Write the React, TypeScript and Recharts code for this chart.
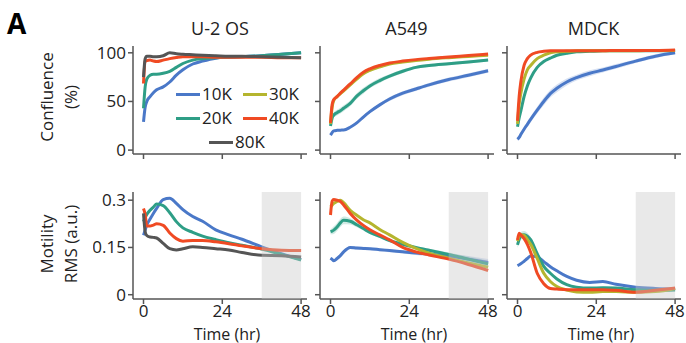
import React from 'react';
import { ComposedChart, Line, Area, XAxis, YAxis, ReferenceArea, Legend } from 'recharts';

// sampling times (hr), shared by every panel
const hours = [0, 0.5, 1, 2, 3, 4, 6, 8, 10, 12, 15, 18, 22, 26, 30, 36, 42, 48];
const timeTicks = [0, 24, 48];
const confTicks = [0, 50, 100];
const motTicks = [0, 0.15, 0.3];
const densities = ['10K', '20K', '30K', '40K', '80K'];
const cellLines = ['U-2 OS', 'A549', 'MDCK'];

// confluence (%)
const u2osConf10K = [29, 44, 50, 55, 59, 62, 65, 70, 77, 82.5, 88.5, 91.5, 94.5, 95.5, 96, 97, 98.5, 100];
const u2osConf20K = [43, 65, 73, 77, 78, 78, 79, 81, 85, 89, 92.5, 94, 95, 95.5, 96, 97, 98.5, 100];
const u2osConf40K = [68.5, 91, 92, 92.5, 91.5, 91, 92.5, 94, 95.2, 96, 96, 96, 95.5, 95.5, 95.5, 95.5, 95, 95];
const u2osConf80K = [75, 94, 96.5, 96.5, 96, 96, 97, 100, 99, 98.5, 98, 97.5, 97, 96.5, 96.5, 96, 95.5, 95];

const a549Conf10K = [15.4, 18, 19.8, 20.3, 20.5, 20.6, 23.5, 28, 34, 39.5, 46.5, 52.5, 58.5, 62.8, 67, 72.5, 77, 81.5];
const a549Conf20K = [24.7, 33, 36, 38.5, 40.5, 43, 48, 55.5, 61, 66, 71.5, 76, 81, 85, 87, 88.8, 90.5, 92.5];
const a549Conf30K = [27, 44, 51, 55, 58, 61, 67, 73, 78.5, 82, 85.5, 88.5, 90.5, 92.2, 93.5, 95, 96.3, 97.6];
const a549Conf40K = [28, 47, 52, 55, 58.5, 61.7, 68, 74.5, 80, 83.5, 87, 89.5, 91.5, 93, 94.2, 95.8, 97.2, 98.7];

const mdckConf10K = [11, 13, 16, 21.5, 26.5, 31.5, 41, 50, 58, 63.5, 70, 74.5, 79, 82.3, 86, 91.5, 96.5, 100];
const mdckConf20K = [24, 33, 40, 55, 66, 74, 85, 91, 94.5, 97.5, 99.5, 101, 101.5, 102, 102, 102, 102, 102.5];
const mdckConf30K = [27, 47, 58, 73, 82.5, 87, 94, 97.5, 100, 101, 101.5, 102, 102, 102, 102, 102, 102.5, 102.5];
const mdckConf40K = [30, 55, 70, 87, 94, 97.7, 100.5, 101.5, 102, 102, 102, 102, 102, 102, 102.5, 102.5, 102.5, 103];

// motility RMS (a.u.)
const u2osMot10K = [0.189, 0.205, 0.221, 0.24, 0.258, 0.274, 0.302, 0.306, 0.29, 0.27, 0.248, 0.233, 0.206, 0.19, 0.176, 0.152, 0.13, 0.112];
const u2osMot20K = [0.232, 0.245, 0.255, 0.268, 0.278, 0.288, 0.283, 0.26, 0.232, 0.212, 0.198, 0.186, 0.175, 0.165, 0.157, 0.145, 0.128, 0.11];
const u2osMot40K = [0.274, 0.255, 0.218, 0.218, 0.221, 0.225, 0.22, 0.196, 0.178, 0.17, 0.172, 0.172, 0.168, 0.162, 0.155, 0.146, 0.141, 0.14];
const u2osMot80K = [0.258, 0.2, 0.188, 0.183, 0.182, 0.18, 0.163, 0.146, 0.142, 0.146, 0.152, 0.15, 0.146, 0.142, 0.134, 0.125, 0.124, 0.12];

const a549Mot10K = [0.116, 0.112, 0.108, 0.115, 0.124, 0.136, 0.15, 0.148, 0.147, 0.146, 0.143, 0.14, 0.136, 0.132, 0.129, 0.123, 0.113, 0.102];
const a549Mot20K = [0.2, 0.202, 0.205, 0.215, 0.228, 0.236, 0.233, 0.222, 0.21, 0.198, 0.185, 0.172, 0.16, 0.15, 0.141, 0.128, 0.113, 0.098];
const a549Mot30K = [0.279, 0.284, 0.29, 0.296, 0.3, 0.292, 0.268, 0.252, 0.238, 0.228, 0.207, 0.19, 0.166, 0.147, 0.132, 0.116, 0.101, 0.087];
const a549Mot40K = [0.253, 0.297, 0.302, 0.3, 0.296, 0.285, 0.258, 0.237, 0.22, 0.206, 0.19, 0.174, 0.15, 0.136, 0.126, 0.113, 0.096, 0.077];

const mdckMot10K = [0.092, 0.095, 0.098, 0.106, 0.115, 0.123, 0.12, 0.105, 0.089, 0.076, 0.058, 0.046, 0.039, 0.042, 0.033, 0.024, 0.02, 0.018];
const mdckMot20K = [0.158, 0.175, 0.187, 0.19, 0.186, 0.175, 0.13, 0.09, 0.068, 0.05, 0.032, 0.024, 0.021, 0.022, 0.021, 0.016, 0.014, 0.015];
const mdckMot30K = [0.17, 0.185, 0.19, 0.188, 0.175, 0.16, 0.115, 0.068, 0.042, 0.026, 0.015, 0.009, 0.008, 0.01, 0.01, 0.008, 0.01, 0.02];
const mdckMot40K = [0.174, 0.195, 0.19, 0.178, 0.16, 0.135, 0.068, 0.035, 0.02, 0.018, 0.016, 0.016, 0.016, 0.016, 0.014, 0.008, 0.014, 0.021];

// half-widths of the shaded error bands that are visible in the figure
const a549Conf10KSd = [1, 1, 1, 1, 1, 1, 1, 1.5, 1.5, 1.5, 1.5, 2, 2, 2, 2, 2, 2, 2];
const a549Conf20KSd = [1.5, 2, 2.5, 3, 3, 3, 3, 3, 3, 2.5, 2.5, 2, 2, 1.5, 1.5, 1.5, 1.5, 1.5];
const a549Conf30KSd = [1, 1.5, 2, 2, 2, 2, 2, 2, 1.5, 1.5, 1.5, 1, 1, 1, 1, 1, 1, 1];
const mdckConf10KSd = [1, 1.5, 1.5, 2, 2.5, 3, 3.5, 4, 4, 4, 3.5, 3, 3, 2.5, 2.5, 2, 2, 1.5];
const a549Mot10KSd = [0.004, 0.004, 0.004, 0.005, 0.005, 0.005, 0.005, 0.005, 0.005, 0.005, 0.005, 0.005, 0.005, 0.006, 0.007, 0.008, 0.01, 0.011];
const a549Mot20KSd = [0.008, 0.01, 0.012, 0.013, 0.013, 0.012, 0.01, 0.008, 0.006, 0.005, 0.005, 0.004, 0.004, 0.004, 0.005, 0.006, 0.008, 0.01];
const mdckMot20KSd = [0.01, 0.012, 0.012, 0.012, 0.01, 0.008, 0.006, 0.004, 0.003, 0.003, 0.003, 0.003, 0.003, 0.003, 0.003, 0.003, 0.003, 0.003];

const colors: Record<string, string> = {
  '10K': '#4a78c8',
  '20K': '#2e9e86',
  '30K': '#b5b52e',
  '40K': '#f04a23',
  '80K': '#555555',
};

const FONT = '"Open Sans", Lato, sans-serif';
const FS = 17;
const INK = '#222';
const AXIS = '#555';

type Series = Record<string, number[]>;

function rows(series: Series, bands: Series = {}) {
  return hours.map((t, i) => {
    const r: Record<string, any> = { t };
    Object.keys(series).forEach((k) => (r[k] = series[k][i]));
    Object.keys(bands).forEach((k) => (r[k + 'band'] = [series[k][i] - bands[k][i], series[k][i] + bands[k][i]]));
    return r;
  });
}

const confData = [
  rows({ '10K': u2osConf10K, '20K': u2osConf20K, '40K': u2osConf40K, '80K': u2osConf80K }),
  rows(
    { '10K': a549Conf10K, '20K': a549Conf20K, '30K': a549Conf30K, '40K': a549Conf40K },
    { '10K': a549Conf10KSd, '20K': a549Conf20KSd, '30K': a549Conf30KSd },
  ),
  rows({ '10K': mdckConf10K, '20K': mdckConf20K, '30K': mdckConf30K, '40K': mdckConf40K }, { '10K': mdckConf10KSd }),
];
const motData = [
  rows({ '10K': u2osMot10K, '20K': u2osMot20K, '40K': u2osMot40K, '80K': u2osMot80K }),
  rows(
    { '10K': a549Mot10K, '20K': a549Mot20K, '30K': a549Mot30K, '40K': a549Mot40K },
    { '10K': a549Mot10KSd, '20K': a549Mot20KSd },
  ),
  rows({ '10K': mdckMot10K, '20K': mdckMot20K, '30K': mdckMot30K, '40K': mdckMot40K }, { '20K': mdckMot20KSd }),
];

const spineX = [133, 319.5, 506.5];
const PLOT_W = 174;
const Y_W = 40;

function LegendBox() {
  const item = (k: string) => (
    <div key={k} style={{ display: 'flex', alignItems: 'center', width: 67 }}>
      <div style={{ width: 24, height: 3, background: colors[k], marginRight: 2 }} />
      <div>{k}</div>
    </div>
  );
  const row: React.CSSProperties = { display: 'flex', height: 24, alignItems: 'center' };
  return (
    <div style={{ fontFamily: FONT, fontSize: FS, color: INK, lineHeight: '20px' }}>
      <div style={row}>{item('10K')}{item('30K')}</div>
      <div style={row}>{item('20K')}{item('40K')}</div>
      <div style={{ ...row, paddingLeft: 33 }}>{item('80K')}</div>
    </div>
  );
}

function Panel({ col, kind }: { col: number; kind: 'conf' | 'mot' }) {
  const top = kind === 'conf';
  const data = top ? confData[col] : motData[col];
  const keys = densities.filter((k) => k in data[0]);
  const bandKeys = keys.filter((k) => k + 'band' in data[0]);
  const plotH = top ? 108 : 107;
  const xh = top ? 12 : 50;
  const tick = { fontSize: FS, fill: INK, fontFamily: FONT };
  return (
    <div style={{ position: 'absolute', left: spineX[col] - Y_W, top: top ? 42 : 188 }}>
      <ComposedChart
        width={Y_W + PLOT_W + 6}
        height={4 + plotH + xh}
        data={data}
        margin={{ top: 4, right: 6, bottom: 0, left: 0 }}
        style={{ fontFamily: FONT }}
      >
        <XAxis
          type="number"
          dataKey="t"
          domain={[-3.2, 49.8]}
          ticks={timeTicks}
          allowDataOverflow
          height={xh}
          tickSize={5}
          tickMargin={1}
          stroke={AXIS}
          strokeWidth={1.5}
          tick={tick}
          tickFormatter={top ? () => '' : (v: number) => String(v)}
          label={
            top
              ? undefined
              : { value: 'Time (hr)', position: 'insideBottom', offset: 9, dx: 7, ...tick, fontSize: 16 }
          }
        />
        <YAxis
          type="number"
          width={Y_W}
          domain={top ? [-4, 107] : [-0.0136, 0.326]}
          ticks={top ? confTicks : motTicks}
          allowDataOverflow
          tickSize={5}
          stroke={AXIS}
          strokeWidth={1.5}
          tick={tick}
          tickFormatter={col === 0 ? (v: number) => String(v) : () => ''}
        />
        {bandKeys.map((k) => (
          <Area
            key={k + 'band'}
            type="monotone"
            dataKey={k + 'band'}
            stroke="none"
            fill={colors[k]}
            fillOpacity={0.22}
            isAnimationActive={false}
          />
        ))}
        {keys.map((k) => (
          <Line
            key={k}
            type="monotone"
            dataKey={k}
            stroke={colors[k]}
            strokeWidth={3}
            dot={false}
            isAnimationActive={false}
          />
        ))}
        {!top && (
          <ReferenceArea x1={36} x2={48} fill="#c8c8c8" fillOpacity={0.4} stroke="none" zIndex={1000} />
        )}
        {top && col === 0 && (
          <Legend
            layout="horizontal"
            verticalAlign="middle"
            align="center"
            content={() => <LegendBox />}
            wrapperStyle={{ left: 83, top: 40, width: 140 }}
          />
        )}
      </ComposedChart>
    </div>
  );
}

export default function App() {
  const text: React.CSSProperties = { position: 'absolute', fontFamily: FONT, color: INK, fontSize: FS, whiteSpace: 'nowrap' };
  const yLabel = (lines: string[], cy: number) => (
    <div
      style={{
        ...text,
        left: 59,
        top: cy,
        transform: 'translate(-50%, -50%) rotate(-90deg)',
        textAlign: 'center',
        lineHeight: '24px',
      }}
    >
      {lines.map((l) => (
        <div key={l}>{l}</div>
      ))}
    </div>
  );
  return (
    <div style={{ position: 'absolute', left: 0, top: 0, width: 686, height: 343, background: '#fff', overflow: 'hidden' }}>
      <div style={{ ...text, left: 7, top: 4, fontSize: 28, fontWeight: 700, color: '#000' }}>A</div>
      {cellLines.map((name, i) => (
        <div
          key={name}
          style={{ ...text, fontSize: 18, left: spineX[i] + PLOT_W / 2, top: 28, transform: 'translate(-50%, -50%)' }}
        >
          {name}
        </div>
      ))}
      {yLabel(['Confluence', '(%)'], 97)}
      {yLabel(['Motility', 'RMS (a.u.)'], 244)}
      {[0, 1, 2].map((c) => (
        <Panel key={'c' + c} col={c} kind="conf" />
      ))}
      {[0, 1, 2].map((c) => (
        <Panel key={'m' + c} col={c} kind="mot" />
      ))}
    </div>
  );
}
